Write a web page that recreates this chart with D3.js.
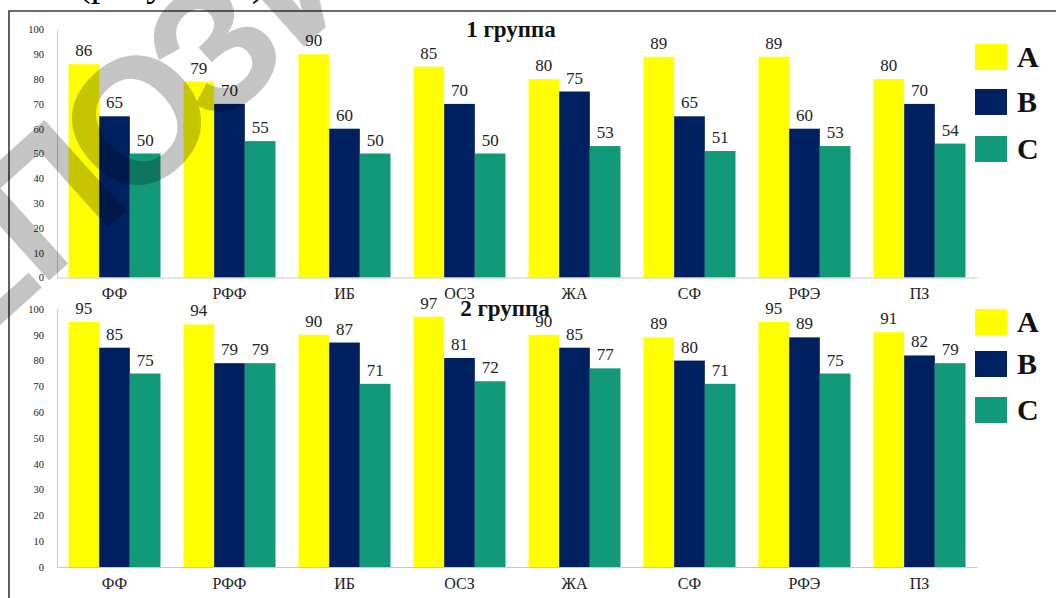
<!DOCTYPE html>
<html>
<head>
<meta charset="utf-8">
<script src="https://cdn.jsdelivr.net/npm/d3@7"></script>
<style>
  html, body { margin: 0; padding: 0; background: #fff; }
  svg { display: block; }
  .wm { mix-blend-mode: multiply; }
</style>
</head>
<body>
<svg id="chart" width="1056" height="598"></svg>
<script>
// Categories and series values for the two groups
const categories = ["ФФ", "РФФ", "ИБ", "ОСЗ", "ЖА", "СФ", "РФЭ", "ПЗ"];
const seriesNames = ["A", "B", "C"];
const group1A = [86, 79, 90, 85, 80, 89, 89, 80];
const group1B = [65, 70, 60, 70, 75, 65, 60, 70];
const group1C = [50, 55, 50, 50, 53, 51, 53, 54];
const group2A = [95, 94, 90, 97, 90, 89, 95, 91];
const group2B = [85, 79, 87, 81, 85, 80, 89, 82];
const group2C = [75, 79, 71, 72, 77, 71, 75, 79];
const yTicks = [0, 10, 20, 30, 40, 50, 60, 70, 80, 90, 100];
const panelTitles = ["1 группа", "2 группа"];

const colors = { A: "#FFFF00", B: "#002060", C: "#12997A" };
const serif = "'Liberation Serif', 'DejaVu Serif', serif";

const svg = d3.select("#chart");

// Caption fragment above the frame (only its lower edge falls inside the page)
svg.append("text")
  .attr("x", 78).attr("y", -4)
  .attr("font-family", serif).attr("font-size", 38)
  .attr("fill", "#000")
  .text("(рисунок 1)");

// Outer frame
svg.append("path")
  .attr("d", "M9,598 L9,11 L1056,11")
  .attr("fill", "none").attr("stroke", "#3a3a3a").attr("stroke-width", 1.6);

const panels = [
  { title: panelTitles[0], data: [group1A, group1B, group1C], y0: 277.5, y100: 29.5,
    catY: 299, titleX: 511, titleY: 37, legendY: [44, 89, 136] },
  { title: panelTitles[1], data: [group2A, group2B, group2C], y0: 567, y100: 309,
    catY: 589, titleX: 505, titleY: 316, legendY: [309, 351, 397] }
];

const x0 = d3.scaleBand().domain(categories).range([57, 977]).paddingInner(0.2).paddingOuter(0.1);
const x1 = d3.scaleBand().domain(seriesNames).range([0, x0.bandwidth()]);

panels.forEach(p => {
  const y = d3.scaleLinear().domain([0, 100]).range([p.y0, p.y100]);
  const g = svg.append("g");

  // y axis
  const yAxis = d3.axisLeft(y).tickValues(yTicks).tickSize(0).tickPadding(13);
  const ya = g.append("g").attr("transform", "translate(57,0)").call(yAxis);
  ya.select(".domain").attr("stroke", "#c8c8c8");
  ya.selectAll("text").attr("font-family", serif).attr("font-size", 10.5).attr("fill", "#222");

  // bars
  const rows = categories.map((c, i) => ({ cat: c, vals: seriesNames.map((s, k) => ({ s, v: p.data[k][i] })) }));
  const cg = g.selectAll(".cat").data(rows).join("g")
    .attr("transform", d => `translate(${x0(d.cat)},0)`);
  cg.selectAll("rect").data(d => d.vals).join("rect")
    .attr("x", d => x1(d.s)).attr("width", x1.bandwidth())
    .attr("y", d => y(d.v)).attr("height", d => y(0) - y(d.v))
    .attr("fill", d => colors[d.s]);
  cg.selectAll("text.val").data(d => d.vals).join("text")
    .attr("class", "val")
    .attr("x", d => x1(d.s) + x1.bandwidth() / 2)
    .attr("y", d => y(d.v) - 8)
    .attr("text-anchor", "middle")
    .attr("font-family", serif).attr("font-size", 17).attr("fill", "#222")
    .text(d => d.v);

  // x axis
  const xAxis = d3.axisBottom(x0).tickSize(0).tickPadding(0);
  const xa = g.append("g").attr("transform", `translate(0,${y(0)})`).call(xAxis);
  xa.select(".domain").attr("stroke", "#c8c8c8");
  xa.selectAll("text").attr("font-family", serif).attr("font-size", 16).attr("fill", "#222")
    .attr("y", p.catY - y(0)).attr("dy", 0);

  // title
  g.append("text").attr("x", p.titleX).attr("y", p.titleY)
    .attr("text-anchor", "middle").attr("font-family", serif)
    .attr("font-weight", "bold").attr("font-size", 23).attr("fill", "#111")
    .text(p.title);

  // legend
  seriesNames.forEach((s, k) => {
    g.append("rect").attr("x", 975).attr("y", p.legendY[k]).attr("width", 32).attr("height", 26)
      .attr("fill", colors[s]);
    g.append("text").attr("x", 1017).attr("y", p.legendY[k] + 23)
      .attr("font-family", serif).attr("font-weight", "bold").attr("font-size", 30)
      .attr("fill", "#111").text(s);
  });
});

// Repository watermark, letters laid out along a rising diagonal
const wmLetters = [
  { ch: "Е", cx: -40, cy: 275 },
  { ch: "П", cx: 45, cy: 198 },
  { ch: "О", cx: 135, cy: 118 },
  { ch: "З", cx: 212, cy: 46 },
  { ch: "И", cx: 300, cy: -36 }
];
svg.append("g").attr("class", "wm")
  .selectAll("text").data(wmLetters).join("text")
  .attr("transform", d => `translate(${d.cx},${d.cy}) rotate(-42)`)
  .attr("text-anchor", "middle").attr("dy", "0.36em")
  .attr("font-family", "'Liberation Sans', Arial, sans-serif")
  .attr("font-weight", "bold").attr("font-size", 178)
  .attr("fill", "#c4c4c4")
  .text(d => d.ch);
</script>
</body>
</html>
